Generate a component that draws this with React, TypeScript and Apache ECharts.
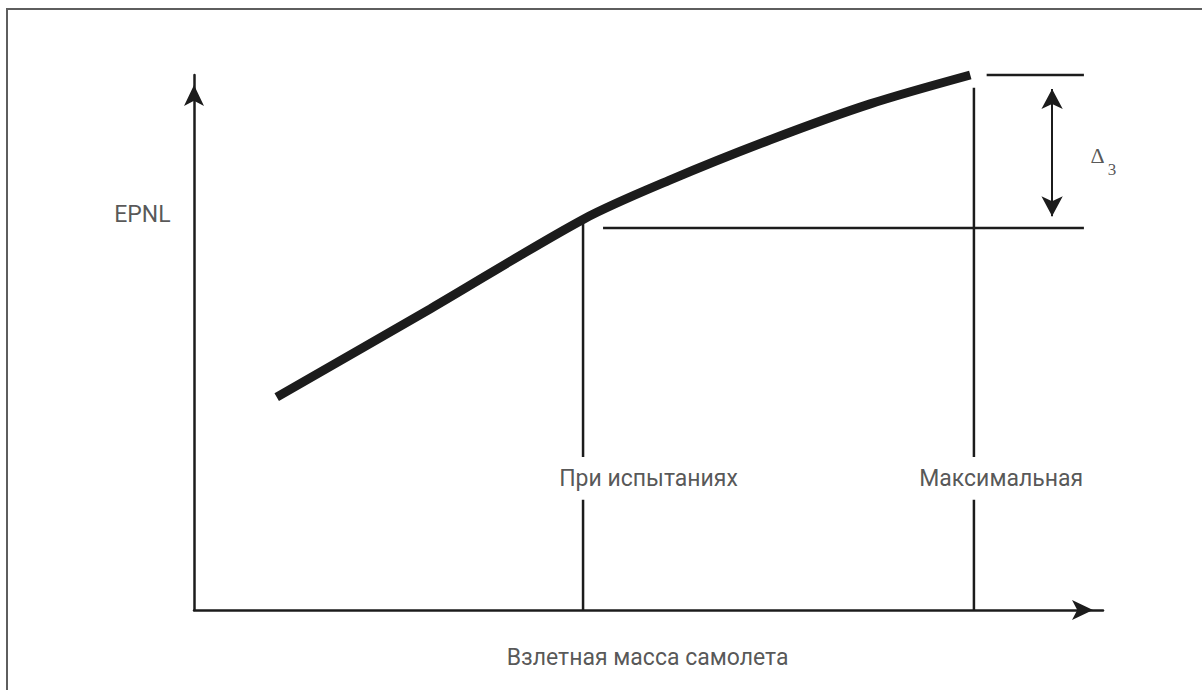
import React, { useEffect, useRef } from "react";
import * as echarts from "echarts";

// Main curve: EPNL versus take-off mass (arbitrary units)
const curveX = [9.1, 26.0, 42.9, 52.4, 63.4, 74.4, 85.4];
const curveY = [39.8, 56.3, 73.1, 80.4, 87.9, 94.6, 100];

// Reference masses
const testMassX = 42.8;
const maxMassX = 85.8;
const testMassTopY = 72.3;
const maxMassTopY = 97.6;
const gapLowY = 20.6;
const gapHighY = 28.6;

// Horizontal level lines
const lowLevelY = 71.4;
const lowLevelFromX = 45.0;
const highLevelY = 100;
const highLevelFromX = 87.2;
const levelToX = 97.9;

// Delta arrow
const deltaX = 94.4;
const deltaTopY = 97.4;
const deltaBottomY = 73.6;

// Annotation texts and their anchor points
const labelTexts = ["При испытаниях", "Максимальная", "EPNL", "Взлетная масса самолета"];
const labelX = [50.0, 88.8, -5.67, 49.9];
const labelY = [24.6, 24.6, 74.0, -8.9];
const deltaLabelX = [99.4, 101.0];
const deltaLabelY = [85.0, 82.4];
const deltaTexts = ["Δ", "3"];

const INK = "#1c1c1c";

export default function App() {
  const ref = useRef<HTMLDivElement>(null);
  useEffect(() => {
    document.body.style.margin = "0";
    const chart = echarts.init(ref.current!, null, { renderer: "svg" });

    const thin = { color: INK, width: 2.5 };
    const vertLine = (x: number, top: number) => [
      [x, 0],
      [x, gapLowY],
      [x, "-"],
      [x, gapHighY],
      [x, top],
    ];

    chart.setOption({
      animation: false,
      backgroundColor: "#ffffff",
      graphic: [
        {
          type: "rect",
          shape: { x: 7, y: 9, width: 1400, height: 900 },
          style: { fill: "none", stroke: "#5e5e5e", lineWidth: 2 },
          silent: true,
        },
      ],
      grid: { left: 194, right: 99, top: 75, bottom: 80 },
      xAxis: {
        type: "value",
        min: 0,
        max: 100,
        axisLine: {
          show: true,
          symbol: ["none", "arrow"],
          symbolSize: [15, 21],
          symbolOffset: [0, -10],
          lineStyle: { color: INK, width: 2.5 },
        },
        axisTick: { show: false },
        axisLabel: { show: false },
        splitLine: { show: false },
      },
      yAxis: {
        type: "value",
        min: 0,
        max: 100,
        axisLine: {
          show: true,
          symbol: ["none", "arrow"],
          symbolSize: [15, 21],
          symbolOffset: [0, -10],
          lineStyle: { color: INK, width: 2.5 },
        },
        axisTick: { show: false },
        axisLabel: { show: false },
        splitLine: { show: false },
      },
      series: [
        {
          type: "line",
          data: curveX.map((x, i) => [x, curveY[i]]),
          smooth: 0.3,
          symbol: "none",
          clip: false,
          silent: true,
          lineStyle: { color: INK, width: 9, cap: "butt" },
        },
        {
          type: "line",
          data: vertLine(testMassX, testMassTopY),
          symbol: "none",
          clip: false,
          silent: true,
          lineStyle: thin,
        },
        {
          type: "line",
          data: vertLine(maxMassX, maxMassTopY),
          symbol: "none",
          clip: false,
          silent: true,
          lineStyle: thin,
        },
        {
          type: "line",
          data: [
            [lowLevelFromX, lowLevelY],
            [levelToX, lowLevelY],
          ],
          symbol: "none",
          clip: false,
          silent: true,
          lineStyle: thin,
        },
        {
          type: "line",
          data: [
            [highLevelFromX, highLevelY],
            [levelToX, highLevelY],
          ],
          symbol: "none",
          clip: false,
          silent: true,
          lineStyle: thin,
          markLine: {
            silent: true,
            symbol: ["arrow", "arrow"],
            symbolSize: [16, 20],
            label: { show: false },
            lineStyle: { color: INK, width: 2, type: "solid" },
            data: [
              [
                { coord: [deltaX, deltaTopY] },
                { coord: [deltaX, deltaBottomY] },
              ],
            ],
          },
        },
        {
          type: "scatter",
          symbolSize: 1,
          itemStyle: { color: "transparent" },
          clip: false,
          silent: true,
          data: labelTexts.map((t, i) => ({ value: [labelX[i], labelY[i]], name: t })),
          label: {
            show: true,
            position: "inside",
            formatter: (p: any) => p.name,
            color: "#2b2b2b",
            fontFamily: "Roboto",
            fontSize: 23,
            align: "center",
            verticalAlign: "middle",
          },
        },
        {
          type: "scatter",
          symbolSize: 1,
          itemStyle: { color: "transparent" },
          clip: false,
          silent: true,
          data: deltaTexts.map((t, i) => ({
            value: [deltaLabelX[i], deltaLabelY[i]],
            name: t,
            label: { fontSize: i === 0 ? 22 : 17 },
          })),
          label: {
            show: true,
            position: "inside",
            formatter: (p: any) => p.name,
            color: "#2b2b2b",
            fontFamily: "'Liberation Serif', serif",
            align: "center",
            verticalAlign: "middle",
          },
        },
      ],
    });
    return () => chart.dispose();
  }, []);
  return <div ref={ref} style={{ width: 1202, height: 690 }} />;
}
